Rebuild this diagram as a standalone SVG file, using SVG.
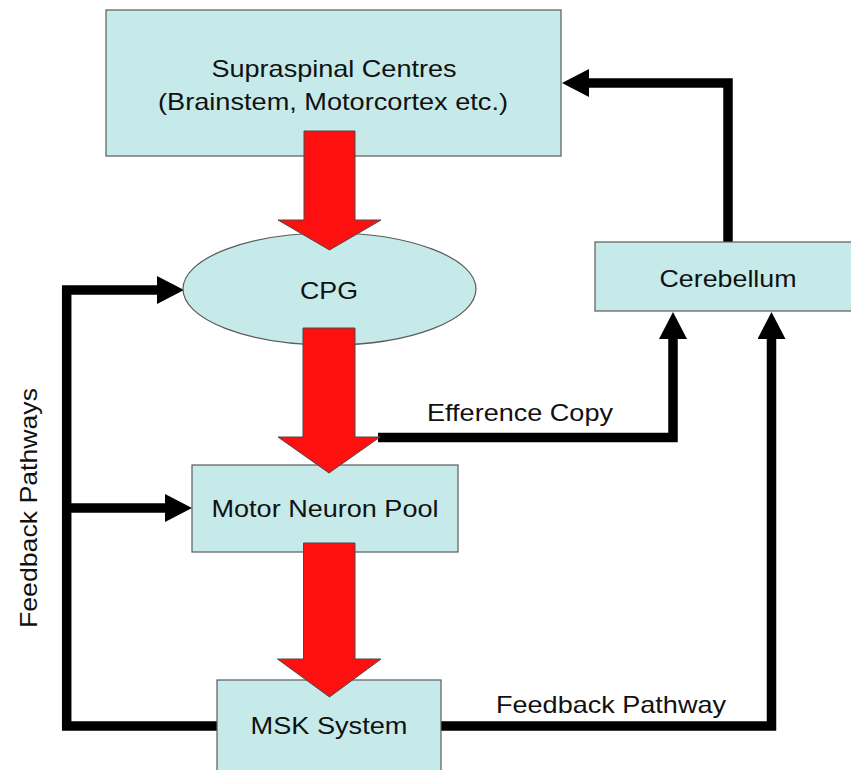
<svg xmlns="http://www.w3.org/2000/svg" width="851" height="770" viewBox="0 0 851 770">
  <defs>
    <style>
      .box { fill: #C6EAEA; stroke: #5a5a5a; stroke-width: 1.2; }
      .lbl { font-family: "Liberation Sans", Arial, sans-serif; font-size: 24px; fill: #111; text-anchor: middle; }
      .wire { fill: none; stroke: #000; stroke-width: 9.5; stroke-linejoin: miter; stroke-linecap: butt; }
      .flow { fill: #FF1010; stroke: #4a4a4a; stroke-width: 1; stroke-linejoin: miter; }
    </style>
    <marker id="head" viewBox="0 0 27 28" refX="0" refY="14" markerWidth="27" markerHeight="28" markerUnits="userSpaceOnUse" orient="auto">
      <path d="M0,0 L27,14 L0,28 z" fill="#000"/>
    </marker>
  </defs>

  <rect width="851" height="770" fill="#fff"/>

  <!-- feedback and copy connectors -->
  <g id="connectors">
    <path class="wire" d="M728,243 V83 H589" marker-end="url(#head)"/>
    <path class="wire" d="M378,437.5 H673 V339" marker-end="url(#head)"/>
    <path class="wire" d="M441,726 H771.5 V339" marker-end="url(#head)"/>
    <path class="wire" d="M218,726 H66.7 V290 H157" marker-end="url(#head)"/>
    <path class="wire" d="M66.7,508 H165" marker-end="url(#head)"/>
  </g>

  <g id="supraspinal">
    <rect class="box" x="106" y="10" width="455" height="146"/>
    <text class="lbl" x="334" y="77" textLength="245" lengthAdjust="spacingAndGlyphs">Supraspinal Centres</text>
    <text class="lbl" x="333" y="110" textLength="350" lengthAdjust="spacingAndGlyphs">(Brainstem, Motorcortex etc.)</text>
  </g>

  <g id="cpg">
    <ellipse class="box" cx="329.5" cy="289" rx="146.5" ry="56"/>
    <text class="lbl" x="329" y="299" textLength="58" lengthAdjust="spacingAndGlyphs">CPG</text>
  </g>

  <g id="cerebellum">
    <rect class="box" x="595" y="242" width="258" height="69"/>
    <text class="lbl" x="728" y="287" textLength="137" lengthAdjust="spacingAndGlyphs">Cerebellum</text>
  </g>

  <g id="motor-neuron-pool">
    <rect class="box" x="192" y="465" width="266" height="87"/>
    <text class="lbl" x="325" y="517" textLength="227" lengthAdjust="spacingAndGlyphs">Motor Neuron Pool</text>
  </g>

  <g id="msk-system">
    <rect class="box" x="217" y="680" width="224" height="95"/>
    <text class="lbl" x="329" y="734" textLength="157" lengthAdjust="spacingAndGlyphs">MSK System</text>
  </g>

  <!-- descending drive -->
  <g id="drive">
    <path class="flow" d="M304,131 H355 V220 H381 L329.5,250 L278,220 H304 z"/>
    <path class="flow" d="M303,328 H355 V437 H380 L329,473 L278,437 H303 z"/>
    <path class="flow" d="M303.5,543 H355 V659 H381 L329.5,697 L277.5,659 H303.5 z"/>
  </g>

  <g id="labels">
    <text class="lbl" x="520" y="421" textLength="186" lengthAdjust="spacingAndGlyphs">Efference Copy</text>
    <text class="lbl" x="611" y="713" textLength="230" lengthAdjust="spacingAndGlyphs">Feedback Pathway</text>
    <text class="lbl" transform="translate(37,508) rotate(-90)" x="0" y="0" textLength="240" lengthAdjust="spacingAndGlyphs">Feedback Pathways</text>
  </g>
</svg>
